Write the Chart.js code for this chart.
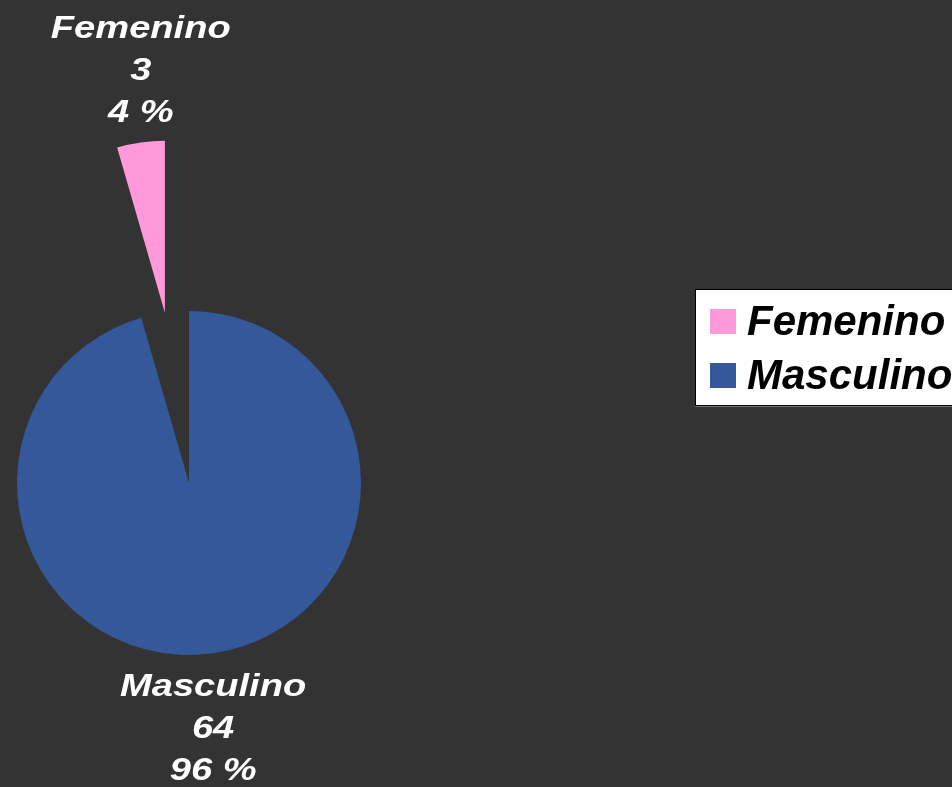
<!DOCTYPE html>
<html>
<head>
<meta charset="utf-8">
<script src="https://cdn.jsdelivr.net/npm/chart.js"></script>
<style>
  html, body { margin: 0; padding: 0; background: #333333; }
  #wrap { position: relative; width: 952px; height: 787px; background: #333333; overflow: hidden; }
  #myChart { position: absolute; left: 0; top: 0; }
  #legend {
    position: absolute; left: 695px; top: 289px; width: 275px; height: 117px;
    box-sizing: border-box; background: #ffffff; border: 1px solid #000000;
    box-shadow: 0 1px 0 #777;
  }
  .row {
    position: absolute; left: 14px; height: 54px; line-height: 54px;
    display: flex; align-items: center; white-space: nowrap;
    font: italic bold 42px "Liberation Sans", Arial, sans-serif; color: #000;
  }
  .sw { width: 26px; height: 25px; margin-right: 11px; flex: none; }
</style>
</head>
<body>
<div id="wrap">
  <canvas id="myChart" width="952" height="787"></canvas>
  <div id="legend"></div>
</div>
<script>
var labels = ["Femenino", "Masculino"];
var counts = [3, 64];
var colors = ["#FF99DA", "#345899"];

var total = counts.reduce(function (a, b) { return a + b; }, 0);
var percents = counts.map(function (v) { return Math.round(v / total * 100) + " %"; });

// how far each slice is pulled out, in pixels
var explode = [172, 0];
var radius = 172;

// legend as html
var legend = document.getElementById("legend");
labels.forEach(function (name, i) {
  var row = document.createElement("div");
  row.className = "row";
  row.style.top = (4 + i * 54) + "px";
  var sw = document.createElement("span");
  sw.className = "sw";
  sw.style.background = colors[i];
  row.appendChild(sw);
  row.appendChild(document.createTextNode(name));
  legend.appendChild(row);
});

// pull slices out along their middle angle (excel style explode)
var explodeSlices = {
  id: "explodeSlices",
  afterDatasetUpdate: function (chart, args) {
    args.meta.data.forEach(function (arc, i) {
      var mid = (arc.startAngle + arc.endAngle) / 2;
      arc.x += Math.cos(mid) * explode[i];
      arc.y += Math.sin(mid) * explode[i];
    });
  }
};

// labels outside each slice: name, count, percent
var sliceLabels = {
  id: "sliceLabels",
  afterDatasetsDraw: function (chart) {
    var ctx = chart.ctx;
    var meta = chart.getDatasetMeta(0);
    ctx.save();
    ctx.fillStyle = "#ffffff";
    ctx.font = 'italic bold 32px "Liberation Sans", Arial, sans-serif';
    ctx.textAlign = "center";
    ctx.textBaseline = "alphabetic";
    meta.data.forEach(function (arc, i) {
      var mid = (arc.startAngle + arc.endAngle) / 2;
      var dx = Math.cos(mid), dy = Math.sin(mid);
      var ax = arc.x + dx * arc.outerRadius, ay = arc.y + dy * arc.outerRadius;
      var lines = [labels[i], String(counts[i]), percents[i]];
      var y0 = dy > 0 ? ay + 20 + 23 : ay - 20 - 2 * 42;
      lines.forEach(function (t, k) {
        ctx.save();
        ctx.translate(ax, y0 + k * 42);
        ctx.scale(1.19, 1);
        ctx.fillText(t, 0, 0);
        ctx.restore();
      });
    });
    ctx.restore();
  }
};

var ctx = document.getElementById("myChart").getContext("2d");

var myChart = new Chart(ctx, {
  type: "pie",
  data: {
    labels: labels,
    datasets: [
      {
        data: counts,
        backgroundColor: colors,
        borderWidth: 0,
        hoverOffset: 0,
        radius: radius,
        clip: false,
      },
    ],
  },
  options: {
    responsive: false,
    animation: false,
    events: [],
    rotation: -counts[0] / total * 360,
    layout: {
      padding: { left: 0, top: 179, right: 574, bottom: 0 },
    },
    plugins: {
      legend: { display: false },
      tooltip: { enabled: false },
    },
  },
  plugins: [explodeSlices, sliceLabels],
});
</script>
</body>
</html>
